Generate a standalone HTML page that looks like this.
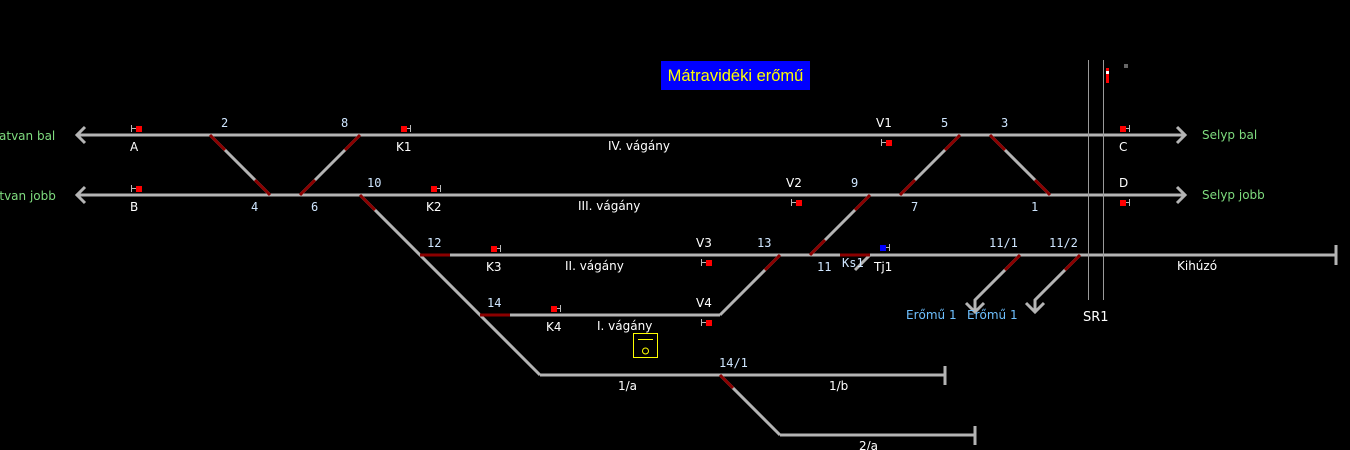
<!DOCTYPE html>
<html><head><meta charset="utf-8"><style>
html,body{margin:0;padding:0;background:#000;width:1350px;height:450px;overflow:hidden}
svg{display:block}
text{font-family:"DejaVu Sans","Liberation Sans",sans-serif;font-size:12px;fill:#fff}
.n{fill:#cfe6ff;font-family:"DejaVu Sans Mono","Liberation Mono",monospace;font-size:12px}
.g{fill:#7fdc7f}
.b{fill:#6ec0ff}
</style></head><body>
<svg width="1350" height="450" viewBox="0 0 1350 450" xmlns="http://www.w3.org/2000/svg">
<g stroke="#b4b4b4" stroke-width="3" fill="none" stroke-linecap="butt">
<line x1="77" y1="135" x2="1185" y2="135"/>
<line x1="77" y1="195" x2="1185" y2="195"/>
<line x1="420" y1="255" x2="1336" y2="255"/>
<line x1="480" y1="315" x2="720" y2="315"/>
<line x1="540" y1="375" x2="945" y2="375"/>
<line x1="780" y1="435" x2="975" y2="435"/>
<polyline points="85,127 77,135 85,143"/>
<polyline points="85,187 77,195 85,203"/>
<polyline points="1177,127 1185,135 1177,143"/>
<polyline points="1177,187 1185,195 1177,203"/>
<line x1="1336" y1="245" x2="1336" y2="265"/>
<line x1="945" y1="366" x2="945" y2="385"/>
<line x1="975" y1="426" x2="975" y2="445"/>
<line x1="210" y1="135" x2="270" y2="195"/>
<line x1="360" y1="135" x2="300" y2="195"/>
<polyline points="360,195 540,375"/>
<line x1="960" y1="135" x2="900" y2="195"/>
<line x1="990" y1="135" x2="1050" y2="195"/>
<line x1="870" y1="195" x2="810" y2="255"/>
<line x1="780" y1="255" x2="720" y2="315"/>
<line x1="870" y1="255" x2="855" y2="270"/>
<polyline points="1020,255 975,300 975,312"/>
<polyline points="966,303 975,312 984,303"/>
<polyline points="1080,255 1035,300 1035,312"/>
<polyline points="1026,303 1035,312 1044,303"/>
<line x1="720" y1="375" x2="780" y2="435"/>
</g>
<g stroke="#8b0000" stroke-width="3" fill="none">
<line x1="210" y1="135" x2="225" y2="150"/><line x1="255" y1="180" x2="270" y2="195"/>
<line x1="360" y1="135" x2="345" y2="150"/><line x1="315" y1="180" x2="300" y2="195"/>
<line x1="360" y1="195" x2="375" y2="210"/>
<line x1="420" y1="255" x2="450" y2="255"/>
<line x1="480" y1="315" x2="510" y2="315"/>
<line x1="960" y1="135" x2="945" y2="150"/><line x1="915" y1="180" x2="900" y2="195"/>
<line x1="990" y1="135" x2="1005" y2="150"/><line x1="1035" y1="180" x2="1050" y2="195"/>
<line x1="870" y1="195" x2="855" y2="210"/><line x1="825" y1="240" x2="810" y2="255"/>
<line x1="780" y1="255" x2="765" y2="270"/>
<line x1="840" y1="255" x2="870" y2="255"/>
<line x1="1020" y1="255" x2="1005" y2="270"/>
<line x1="1080" y1="255" x2="1065" y2="270"/>
<line x1="720" y1="375" x2="733" y2="388"/>
</g>
<g stroke="#9a9a9a" stroke-width="1">
<line x1="1088.5" y1="60" x2="1088.5" y2="300"/>
<line x1="1103.5" y1="60" x2="1103.5" y2="300"/>
</g>
<g fill="#ff0000">
<rect x="136" y="126" width="6" height="6"/><rect x="401" y="126" width="6" height="6"/>
<rect x="136" y="186" width="6" height="6"/><rect x="431" y="186" width="6" height="6"/>
<rect x="491" y="246" width="6" height="6"/><rect x="551" y="306" width="6" height="6"/>
<rect x="886" y="140" width="6" height="6"/><rect x="796" y="200" width="6" height="6"/>
<rect x="706" y="260" width="6" height="6"/><rect x="706" y="320" width="6" height="6"/>
<rect x="1120" y="126" width="6" height="6"/><rect x="1120" y="200" width="6" height="6"/>
<rect x="1106" y="68" width="3" height="15"/>
</g>
<rect x="1106" y="71" width="3" height="3" fill="#fff"/>
<rect x="1124" y="64" width="4" height="4" fill="#666"/>
<rect x="880" y="245" width="6" height="6" fill="#0000ff"/>
<g stroke="#bbb" stroke-width="1" fill="none">
<path d="M131.5 125v7M131 128.5h5"/>
<path d="M410.5 125v7M407 128.5h4"/>
<path d="M131.5 185v7M131 188.5h5"/>
<path d="M440.5 185v7M437 188.5h4"/>
<path d="M500.5 245v7M497 248.5h4"/>
<path d="M560.5 305v7M557 308.5h4"/>
<path d="M881.5 139v7M881 142.5h5"/><path d="M791.5 199v7M791 202.5h5"/>
<path d="M701.5 259v7M701 262.5h5"/><path d="M701.5 319v7M701 322.5h5"/>
<path d="M1129.5 125v7M1126 128.5h4"/><path d="M1129.5 199v7M1126 202.5h4"/>
<path d="M889.5 244v7M886 247.5h4"/>
</g>
<rect x="661" y="61" width="149" height="29" fill="#0000ff"/>
<text x="735.5" y="81" text-anchor="middle" style="fill:#ffff00;font-family:'Liberation Sans',sans-serif;font-size:16.5px">Mátravidéki erőmű</text>
<rect x="633.5" y="333.5" width="24" height="24" fill="none" stroke="#ffff00" stroke-width="1"/>
<line x1="638" y1="339.5" x2="653" y2="339.5" stroke="#ffff00"/>
<circle cx="645.5" cy="351" r="3" fill="none" stroke="#ffff00"/>
<text x="-10" y="140" class="g">Hatvan bal</text>
<text x="-17" y="200" class="g">Hatvan jobb</text>
<text x="1202" y="139" class="g">Selyp bal</text>
<text x="1202" y="199" class="g">Selyp jobb</text>
<text x="130" y="151">A</text><text x="130" y="211">B</text>
<text x="396" y="151">K1</text><text x="426" y="211">K2</text>
<text x="486" y="271">K3</text><text x="546" y="331">K4</text>
<text x="876" y="127">V1</text><text x="786" y="187">V2</text>
<text x="696" y="247">V3</text><text x="696" y="307">V4</text>
<text x="1119" y="151">C</text><text x="1119" y="187">D</text>
<text x="874" y="271">Tj1</text>
<text x="608" y="150">IV. vágány</text>
<text x="578" y="210">III. vágány</text>
<text x="565" y="270">II. vágány</text>
<text x="597" y="330">I. vágány</text>
<text x="618" y="390">1/a</text>
<text x="829" y="390">1/b</text>
<text x="859" y="450">2/a</text>
<text x="1177" y="270">Kihúzó</text>
<text x="1083" y="321" style="font-size:13px">SR1</text>
<text x="906" y="319" class="b">Erőmű 1</text>
<text x="967" y="319" class="b">Erőmű 1</text>
<text x="221" y="127" class="n">2</text><text x="341" y="127" class="n">8</text>
<text x="251" y="211" class="n">4</text><text x="311" y="211" class="n">6</text>
<text x="367" y="187" class="n">10</text><text x="427" y="247" class="n">12</text>
<text x="487" y="307" class="n">14</text>
<text x="941" y="127" class="n">5</text><text x="1001" y="127" class="n">3</text>
<text x="851" y="187" class="n">9</text><text x="911" y="211" class="n">7</text>
<text x="1031" y="211" class="n">1</text>
<text x="757" y="247" class="n">13</text><text x="817" y="271" class="n">11</text>
<text x="842" y="267" class="n">Ks1</text>
<text x="989" y="247" class="n">11/1</text><text x="1049" y="247" class="n">11/2</text>
<text x="719" y="367" class="n">14/1</text>
</svg>
</body></html>
